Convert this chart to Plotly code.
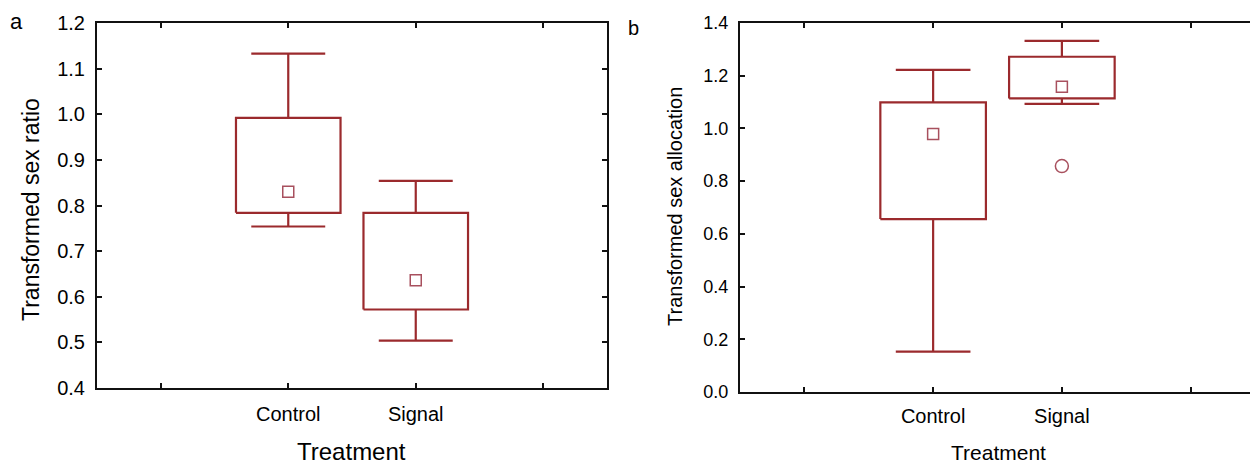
import plotly.graph_objects as go

# ---- data ----
categories = ["Control", "Signal"]
cat_pos = [1.5, 2.5]
tick_vals = [0.5, 1.5, 2.5, 3.5]
tick_text = ["", "Control", "Signal", ""]

# panel a: Transformed sex ratio
a_whisk_lo = [0.754, 0.504]
a_q1 = [0.784, 0.572]
a_median = [0.830, 0.636]
a_q3 = [0.992, 0.784]
a_whisk_hi = [1.133, 0.854]

# panel b: Transformed sex allocation
b_whisk_lo = [0.153, 1.093]
b_q1 = [0.656, 1.114]
b_median = [0.979, 1.158]
b_q3 = [1.099, 1.272]
b_whisk_hi = [1.222, 1.332]
b_outlier_x = ["Signal"]
b_outlier_y = [0.857]

a_yticks = [0.4, 0.5, 0.6, 0.7, 0.8, 0.9, 1.0, 1.1, 1.2]
b_yticks = [0.0, 0.2, 0.4, 0.6, 0.8, 1.0, 1.2, 1.4]

LINE = "#9b2a2d"
MARK = "#a8505e"
BOX_HALF = 0.41
CAP_HALF = 0.29

# page body has an 8px margin; figure is sized to fit the window
W, H = 1250, 457
OFF = 8


def px(x):
    return (x - OFF) / W


def py(y):
    return 1 - (y - OFF) / H


fig = go.Figure()


def add_boxes(xa, ya, lo, q1, med, q3, hi):
    for i, c in enumerate(categories):
        x = cat_pos[i]
        xs, ys = [], []
        xs += [x - BOX_HALF, x + BOX_HALF, x + BOX_HALF, x - BOX_HALF, x - BOX_HALF, None]
        ys += [q1[i], q1[i], q3[i], q3[i], q1[i], None]
        xs += [x, x, None, x, x, None]
        ys += [q3[i], hi[i], None, q1[i], lo[i], None]
        xs += [x - CAP_HALF, x + CAP_HALF, None, x - CAP_HALF, x + CAP_HALF, None]
        ys += [hi[i], hi[i], None, lo[i], lo[i], None]
        fig.add_trace(go.Scatter(x=xs, y=ys, mode="lines", xaxis=xa, yaxis=ya,
                                 line=dict(color=LINE, width=2.2), showlegend=False,
                                 hoverinfo="skip"))
    fig.add_trace(go.Scatter(x=cat_pos, y=med, mode="markers", xaxis=xa, yaxis=ya,
                             marker=dict(symbol="square-open", size=11, color=MARK,
                                         line=dict(width=1.5, color=MARK)),
                             showlegend=False))


add_boxes("x", "y", a_whisk_lo, a_q1, a_median, a_q3, a_whisk_hi)
add_boxes("x2", "y2", b_whisk_lo, b_q1, b_median, b_q3, b_whisk_hi)

fig.add_trace(go.Scatter(x=[cat_pos[categories.index(c)] for c in b_outlier_x], y=b_outlier_y,
                         mode="markers", xaxis="x2", yaxis="y2",
                         marker=dict(symbol="circle-open", size=13, color=MARK,
                                     line=dict(width=1.5, color=MARK)),
                         showlegend=False))

FONT = "Liberation Sans, Arial, sans-serif"
INK = "#000"

xcommon = dict(range=[0, 4], tickvals=tick_vals, ticktext=tick_text, showgrid=False,
               zeroline=False, showline=True, linecolor="#111", linewidth=2, mirror="allticks",
               ticks="inside", ticklen=5, tickwidth=2, tickcolor="#111", automargin=False)
ycommon = dict(showgrid=False, zeroline=False, showline=True, linecolor="#111", linewidth=2,
               mirror="allticks", ticks="inside", ticklen=5, tickwidth=2, tickcolor="#111",
               automargin=False)

fig.update_layout(
    width=W, height=H,
    margin=dict(l=0, r=0, t=0, b=0),
    paper_bgcolor="white", plot_bgcolor="white",
    font=dict(family=FONT, color=INK),
    xaxis=dict(domain=[px(97), px(607)], anchor="y",
               tickfont=dict(size=20, family=FONT, color=INK), ticklabelstandoff=7, **xcommon),
    yaxis=dict(domain=[py(388), py(23)], anchor="x", range=[0.4, 1.2],
               tickvals=a_yticks, ticktext=[f"{v:.1f}" for v in a_yticks],
               tickfont=dict(size=20, family=FONT, color=INK), ticklabelstandoff=6, **ycommon),
    xaxis2=dict(domain=[px(740), px(1255)], anchor="y2",
                tickfont=dict(size=20, family=FONT, color=INK), ticklabelstandoff=5, **xcommon),
    yaxis2=dict(domain=[py(392), py(23)], anchor="x2", range=[0, 1.4],
                tickvals=b_yticks, ticktext=[f"{v:.1f}" for v in b_yticks],
                tickfont=dict(size=18, family=FONT, color=INK), ticklabelstandoff=6, **ycommon),
    annotations=[
        dict(text="a", x=px(16), y=1, xref="paper", yref="paper", borderpad=0,
             showarrow=False, font=dict(size=22, family=FONT), xanchor="center", yanchor="top"),
        dict(text="b", x=px(633), y=py(28), xref="paper", yref="paper",
             showarrow=False, font=dict(size=20, family=FONT), xanchor="center", yanchor="middle"),
        dict(text="Transformed sex ratio", x=px(31), y=py(210), xref="paper", yref="paper",
             showarrow=False, textangle=-90, font=dict(size=23, family=FONT),
             xanchor="center", yanchor="middle"),
        dict(text="Transformed sex allocation", x=px(675), y=py(207), xref="paper",
             yref="paper", showarrow=False, textangle=-90, font=dict(size=20, family=FONT),
             xanchor="center", yanchor="middle"),
        dict(text="Treatment", x=px(351), y=py(451), xref="paper", yref="paper", borderpad=0,
             showarrow=False, font=dict(size=24, family=FONT), xanchor="center", yanchor="middle"),
        dict(text="Treatment", x=px(998), y=py(452), xref="paper", yref="paper", borderpad=0,
             showarrow=False, font=dict(size=21, family=FONT), xanchor="center", yanchor="middle"),
    ],
)

fig.write_html("out.html")
